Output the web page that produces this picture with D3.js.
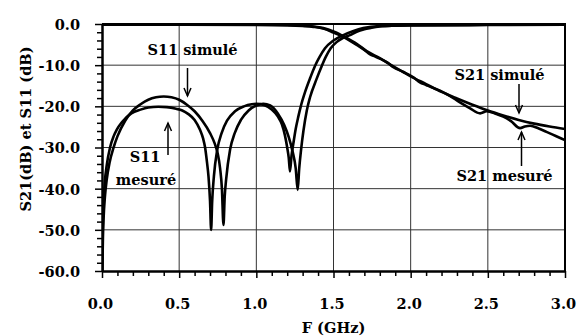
<!DOCTYPE html>
<html><head><meta charset="utf-8">
<script src="https://cdn.jsdelivr.net/npm/d3@7"></script>
<style>
body{margin:0;background:#fff}
svg{display:block}
text{font-family:"DejaVu Serif",serif;font-weight:bold;fill:#000}
</style>
</head><body>
<svg id="c" width="579" height="336"></svg>
<script>
// ---------- DATA ----------
const xMajorTicks = [0, 0.5, 1.0, 1.5, 2.0, 2.5, 3.0];
const xMinorTicks = [0.1,0.2,0.3,0.4,0.6,0.7,0.8,0.9,1.1,1.2,1.3,1.4,1.6,1.7,1.8,1.9,2.1,2.2,2.3,2.4,2.6,2.7,2.8,2.9];
const yMajorTicks = [0, -10, -20, -30, -40, -50, -60];
const yMinorTicks = [-2,-4,-6,-8,-12,-14,-16,-18,-22,-24,-26,-28,-32,-34,-36,-38,-42,-44,-46,-48,-52,-54,-56,-58];
const xGrid = [0.5, 1.0, 1.5, 2.0, 2.5];
const yGrid = [-10, -20, -30, -40, -50];

// S11 simulated
const fS11sim  = [0, 0.003, 0.006, 0.01, 0.02, 0.03, 0.05, 0.075, 0.1, 0.15, 0.2, 0.25, 0.3, 0.35, 0.4, 0.45, 0.5, 0.55, 0.6, 0.65, 0.7, 0.73, 0.75, 0.765, 0.777, 0.787, 0.795, 0.805, 0.83, 0.86, 0.9, 0.95, 1.0, 1.045, 1.09, 1.14, 1.18, 1.21, 1.235, 1.255, 1.268, 1.278, 1.29, 1.305, 1.327, 1.348, 1.39, 1.424, 1.45, 1.482, 1.52, 1.56, 1.607, 1.65, 1.7, 1.737, 1.8, 1.9, 2.0, 2.5, 3.0];
const dbS11sim = [-62, -58, -52, -47.5, -41.5, -38, -33.5, -30, -27.3, -23.5, -21.0, -19.5, -18.4, -17.8, -17.6, -17.8, -18.4, -19.6, -21.2, -23.5, -26.5, -29, -31.5, -35, -40, -48.8, -42, -37.5, -30.5, -26.5, -23.3, -21.0, -19.8, -19.4, -19.8, -21.8, -24.5, -27.5, -31, -35, -40.3, -35, -30.5, -26, -21, -17.8, -13.4, -10.2, -8.0, -5.9, -4.4, -3.4, -2.7, -1.9, -1.3, -1.0, -0.6, -0.4, -0.3, -0.2, -0.15];

// S11 measured
const fS11mes  = [0, 0.002, 0.005, 0.01, 0.019, 0.03, 0.052, 0.075, 0.095, 0.13, 0.19, 0.25, 0.3, 0.365, 0.42, 0.48, 0.52, 0.56, 0.6, 0.635, 0.655, 0.668, 0.68, 0.69, 0.7, 0.707, 0.714, 0.725, 0.747, 0.775, 0.81, 0.862, 0.92, 0.97, 1.0, 1.05, 1.1, 1.14, 1.165, 1.185, 1.2, 1.21, 1.218, 1.228, 1.24, 1.255, 1.272, 1.288, 1.316, 1.35, 1.38, 1.41, 1.445, 1.5, 1.564, 1.63, 1.693, 1.8, 2.0, 2.5, 3.0];
const dbS11mes = [-62, -57, -49.5, -43.5, -38, -34.5, -30, -27.3, -25.7, -23.8, -21.7, -20.8, -20.3, -20.1, -20.2, -20.6, -21.0, -21.9, -23.3, -25.7, -27.8, -30, -33.5, -37, -43, -50, -43, -37, -30.5, -26.5, -23.5, -21.2, -20.0, -19.5, -19.4, -19.7, -20.8, -22.5, -24.3, -27, -30, -32.5, -35.8, -32, -29, -25.5, -22.5, -20, -16.5, -13, -10.2, -8, -5.9, -4.0, -2.7, -1.7, -1.0, -0.5, -0.35, -0.25, -0.2];

// S21 simulated
const fS21sim  = [0, 0.5, 1.0, 1.2, 1.3, 1.37, 1.434, 1.5, 1.586, 1.65, 1.715, 1.8, 1.888, 2.0, 2.1, 2.2, 2.3, 2.4, 2.5, 2.6, 2.7, 2.8, 2.9, 3.0];
const dbS21sim = [-0.05, -0.05, -0.1, -0.2, -0.4, -0.6, -1.0, -1.8, -3.4, -4.8, -6.6, -8.3, -10.3, -12.7, -14.6, -16.5, -18.1, -19.6, -21.0, -22.2, -23.3, -24.2, -24.9, -25.5];

// S21 measured
const fS21mes  = [0, 0.5, 1.0, 1.2, 1.3, 1.37, 1.434, 1.5, 1.586, 1.65, 1.7, 1.737, 1.77, 1.8, 1.85, 1.888, 1.95, 2.02, 2.06, 2.1, 2.125, 2.19, 2.277, 2.33, 2.385, 2.45, 2.493, 2.55, 2.6, 2.65, 2.709, 2.74, 2.774, 2.83, 2.88, 2.94, 3.0];
const dbS21mes = [-0.2, -0.2, -0.25, -0.35, -0.5, -0.7, -1.1, -2.1, -3.6, -5.1, -6.3, -7.4, -7.9, -8.4, -9.4, -10.5, -11.6, -13.0, -14.2, -14.8, -15.2, -16.2, -18.0, -19.3, -20.5, -21.7, -21.2, -21.8, -22.5, -23.6, -25.3, -24.9, -24.7, -25.4, -26.2, -27.2, -28.2];

const series = [
  {f: fS11sim, db: dbS11sim},
  {f: fS11mes, db: dbS11mes},
  {f: fS21sim, db: dbS21sim},
  {f: fS21mes, db: dbS21mes}
];

// ---------- CHART ----------
const FONT = '"DejaVu Serif",serif';
const svg = d3.select('#c');
const x = d3.scaleLinear().domain([0, 3]).range([102, 565]);
const y = d3.scaleLinear().domain([-60, 0]).range([271, 24]);
const SX = 0.97, FS = 15;

// grid
svg.append('g').selectAll('line').data(xGrid).join('line')
  .attr('x1', d => x(d)).attr('x2', d => x(d))
  .attr('y1', y(0)).attr('y2', y(-60))
  .attr('stroke', '#333').attr('stroke-width', 1);
svg.append('g').selectAll('line').data(yGrid).join('line')
  .attr('y1', d => y(d)).attr('y2', d => y(d))
  .attr('x1', x(0)).attr('x2', x(3))
  .attr('stroke', '#333').attr('stroke-width', 1);

// clip
svg.append('clipPath').attr('id', 'pc').append('rect')
  .attr('x', x(0)).attr('y', y(0) - 2).attr('width', x(3) - x(0)).attr('height', y(-60) - y(0) + 2);

const line = d3.line().x(d => x(d[0])).y(d => y(d[1])).curve(d3.curveMonotoneX);
svg.append('g').attr('clip-path', 'url(#pc)').selectAll('path').data(series).join('path')
  .attr('d', s => line(s.f.map((f, i) => [f, s.db[i]])))
  .attr('fill', 'none').attr('stroke', '#000').attr('stroke-width', 2.6)
  .attr('stroke-linejoin', 'round');

// frame top / right
svg.append('line').attr('x1', x(0)).attr('x2', x(3)).attr('y1', y(0)).attr('y2', y(0))
  .attr('stroke', '#000').attr('stroke-width', 2);
svg.append('line').attr('x1', x(3)).attr('x2', x(3)).attr('y1', y(0) - 1).attr('y2', y(-60) + 1)
  .attr('stroke', '#000').attr('stroke-width', 2);

// axes
function styleAxis(g) {
  g.attr('font-family', FONT);
  g.select('.domain').attr('stroke', '#000').attr('stroke-width', 2);
  g.selectAll('.tick line').attr('stroke', '#000').attr('stroke-width', 1.5);
}
const gyMinor = svg.append('g').attr('transform', `translate(${x(0)},0)`)
  .call(d3.axisLeft(y).tickValues(yMinorTicks).tickSize(5).tickSizeOuter(0).tickFormat(''));
styleAxis(gyMinor);
const gy = svg.append('g').attr('transform', `translate(${x(0)},0)`)
  .call(d3.axisLeft(y).tickValues(yMajorTicks).tickSize(7).tickSizeOuter(0).tickFormat(d => d.toFixed(1)));
styleAxis(gy);
gy.selectAll('.tick text')
  .attr('x', -22 / SX).attr('dy', '0.36em')
  .attr('transform', `scale(${SX},1)`)
  .style('font-size', FS + 'px').style('font-family', FONT).style('font-weight', 'bold');

const gxMinor = svg.append('g').attr('transform', `translate(0,${y(-60)})`)
  .call(d3.axisBottom(x).tickValues(xMinorTicks).tickSize(5).tickSizeOuter(0).tickFormat(''));
styleAxis(gxMinor);
const gx = svg.append('g').attr('transform', `translate(0,${y(-60)})`)
  .call(d3.axisBottom(x).tickValues(xMajorTicks).tickSize(7).tickSizeOuter(0).tickFormat(d => d.toFixed(1)));
styleAxis(gx);
gx.selectAll('.tick text')
  .attr('x', -2 / SX).attr('y', 38).attr('dy', 0)
  .attr('transform', `scale(${SX},1)`)
  .style('font-size', FS + 'px').style('font-family', FONT).style('font-weight', 'bold');

// text helper
function label(px, py, str, rot) {
  const g = svg.append('g').attr('transform', `translate(${px},${py})${rot ? ' rotate(' + rot + ')' : ''} scale(${SX},1)`);
  g.append('text').attr('text-anchor', 'middle').style('font-size', FS + 'px').style('font-family', FONT).text(str);
  return g;
}
// axis titles
label(333.5, 333, 'F (GHz)');
label(31, 129, 'S21(dB) et S11 (dB)', -90);

// annotations
label(192.5, 55, 'S11 simulé');
label(145, 162, 'S11');
label(146, 185, 'mesuré');
label(499.5, 80, 'S21 simulé');
label(504.5, 181, 'S21 mesuré');

function arrow(ax, y1, y2) {
  svg.append('line').attr('x1', ax).attr('x2', ax).attr('y1', y1).attr('y2', y2)
    .attr('stroke', '#000').attr('stroke-width', 1.5);
  const d = y2 > y1 ? -1 : 1;
  svg.append('path').attr('d', `M${ax - 3.5},${y2 + d * 8}L${ax},${y2}L${ax + 3.5},${y2 + d * 8}`)
    .attr('fill', 'none').attr('stroke', '#000').attr('stroke-width', 1.5);
}
arrow(187.5, 68, 96);
arrow(168, 155, 123);
arrow(519, 84, 113);
arrow(521.5, 166, 132);
</script>
</body></html>
